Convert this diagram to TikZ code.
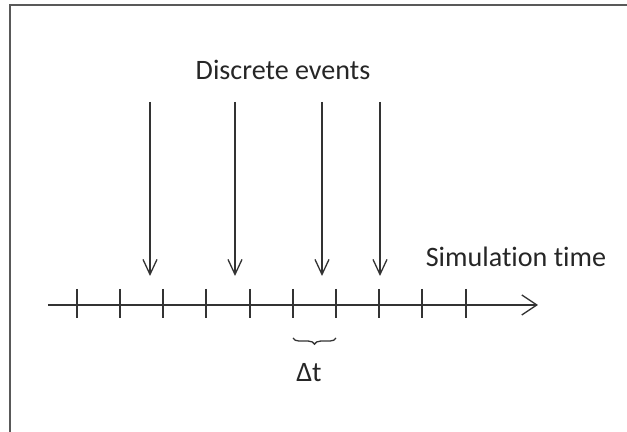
\documentclass[tikz,border=0pt]{standalone}
\usepackage{fontspec}
\setmainfont{Carlito}[Ligatures=NoCommon]
\usetikzlibrary{arrows.meta,decorations.pathreplacing}

\begin{document}
\begin{tikzpicture}[x=0.02cm,y=-0.02cm,
    axisline/.style={line width=0.75pt,black!80},
    eventarrow/.style={axisline,-{Straight Barb[length=15*0.02cm,width=14*0.02cm]}},
    timearrow/.style={axisline,-{Straight Barb[length=15*0.02cm,width=20*0.02cm]}},
    lbl/.style={inner sep=0pt,font=\fontsize{16}{19}\selectfont,text=black!85}]

\useasboundingbox (0,0) rectangle (627,432);

% open frame, only left and top edges show
\draw[line width=1pt,black!65] (10,432) -- (10,5) -- (627,5);

% time axis
\coordinate (t0) at (48,305);
\coordinate (tend) at (538,305);
\draw[timearrow] (t0) -- (tend);

\foreach \i/\x in {1/77,2/120,3/163,4/206,5/250,6/293,7/336,8/379,9/422,10/466}
  \draw[axisline] (\x,289) coordinate (tick\i) -- (\x,318);

% incoming events
\foreach \i/\x in {1/150,2/235,3/322,4/380}
{
  \coordinate (ev\i) at (\x,102);
  \coordinate (hit\i) at (\x,276);
  \draw[eventarrow] (ev\i) -- (hit\i);
}

\node[lbl,anchor=base] (events) at (283,80) {Discrete events};
\node[lbl,anchor=base] (simtime) at (516,267) {Simulation time};

% one time step
\coordinate (dtr) at (336,338);
\coordinate (dtl) at (293,338);
\draw[axisline,decorate,decoration={brace,amplitude=3.5pt,aspect=0.5}] (dtr) -- (dtl);
\node[lbl,anchor=base] (dt) at (309,382) {Δt};

\end{tikzpicture}
\end{document}
